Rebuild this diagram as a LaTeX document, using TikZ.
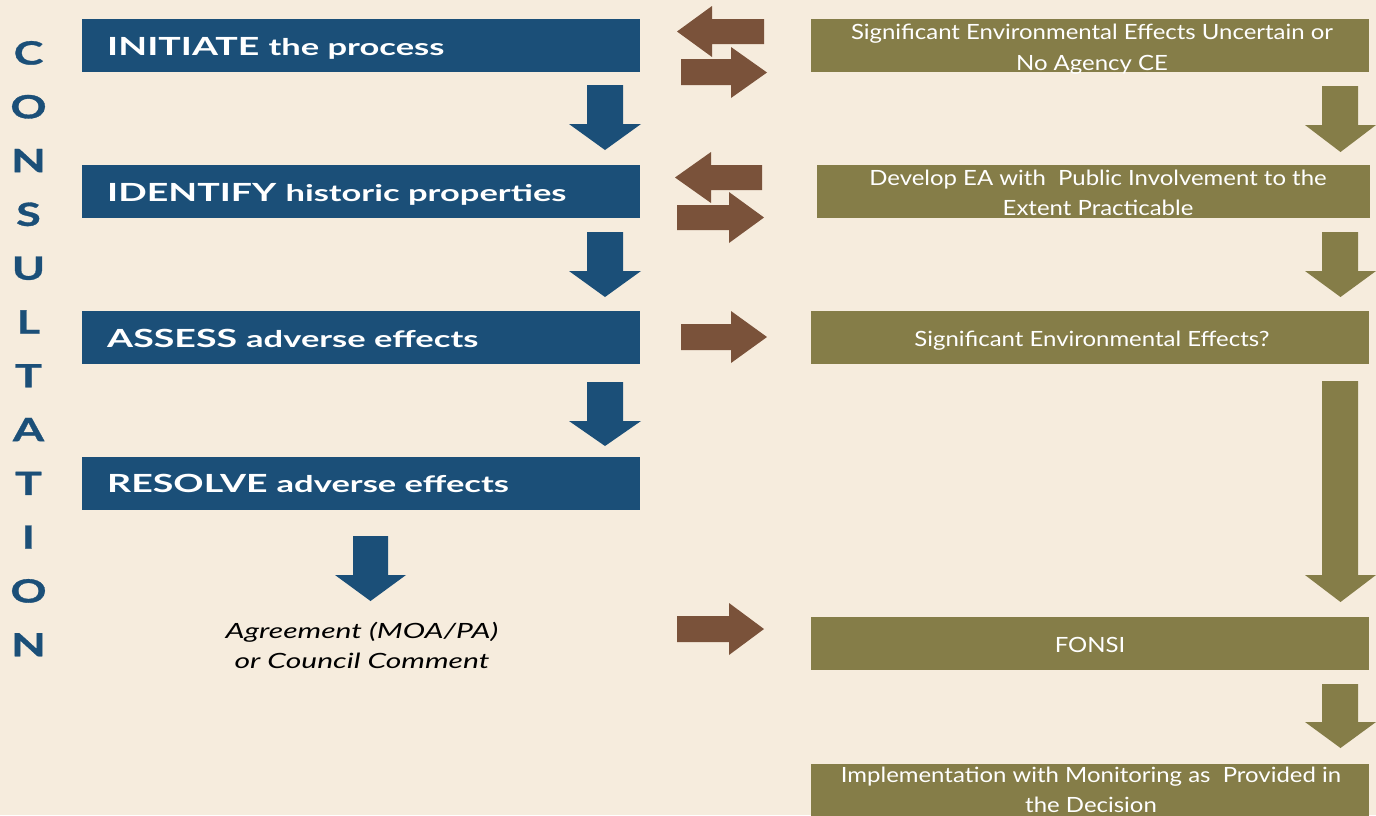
\documentclass[tikz,border=0pt]{standalone}
\usepackage{fontspec}
\setmainfont{Lato}
\newfontfamily\condfont[FakeStretch=1.14]{Lato}
\newfontfamily\bluefont[FakeStretch=1.5]{Lato}
\newfontfamily\itfont[FakeStretch=1.43]{Lato}
\newfontfamily\widefont[FakeStretch=1.4,FakeBold=1]{Lato}
\definecolor{bg}{HTML}{F6ECDD}
\definecolor{navy}{HTML}{1B4F78}
\definecolor{olive}{HTML}{857D48}
\definecolor{brownarr}{HTML}{7A523A}
% down arrow: color, shaft left, shaft right, head left, head right, top, head base, tip
\newcommand\myDown[8]{\fill[#1] (#2,#6) -- (#3,#6) -- (#3,#7) -- (#5,#7) -- ({(#4+#5)/2},#8) -- (#4,#7) -- (#2,#7) -- cycle;}
% horizontal arrow: color, shaft start x, head base x, tip x, shaft y1, shaft y2, head y1, head y2
\newcommand\myHoriz[8]{\fill[#1] (#2,#5) -- (#3,#5) -- (#3,#7) -- (#4,{(#7+#8)/2}) -- (#3,#8) -- (#3,#6) -- (#2,#6) -- cycle;}
\begin{document}
\begin{tikzpicture}[x=1pt,y=-1pt,
  bbox/.style={rectangle,fill=navy,inner sep=0pt,outer sep=0pt,minimum width=558pt,minimum height=53pt},
  obox/.style={rectangle,fill=olive,inner sep=0pt,outer sep=0pt,minimum width=558pt,minimum height=53pt},
  btext/.style={anchor=base west,text=white,inner sep=0pt,font=\bluefont\fontsize{25}{30}\selectfont\bfseries},
  otext/.style={anchor=base,text=white,inner sep=0pt,font=\condfont\fontsize{21}{25}\selectfont},
  itext/.style={anchor=base,text=black,inner sep=0pt,font=\itfont\fontsize{21}{25}\selectfont\itshape},
  letter/.style={anchor=base,text=navy,inner sep=0pt,font=\widefont\fontsize{32}{36}\selectfont\bfseries}]
\fill[bg] (0,0) rectangle (1376,815);
\useasboundingbox (0,0) rectangle (1376,815);

% CONSULTATION
\foreach \ch [count=\i from 0] in {C,O,N,S,U,L,T,A,T,I,O,N}{
  \node[letter] (L\i) at (28.5,{64.5+53.8*\i}) {\ch};
}

% blue boxes
\node[bbox] (init) at (361,45.5) {};
\node[bbox] (ident) at (361,191.5) {};
\node[bbox] (assess) at (361,337.5) {};
\node[bbox] (resolve) at (361,483) {};
\node[btext] (t1) at (107,55) {INITIATE \fontsize{23}{28}\selectfont the process};
\node[btext] (t2) at (107,201) {IDENTIFY \fontsize{23}{28}\selectfont historic properties};
\node[btext] (t3) at (107,347) {ASSESS \fontsize{23}{28}\selectfont adverse effects};
\node[btext] (t4) at (107,492) {RESOLVE \fontsize{23}{28}\selectfont adverse effects};
\node[itext] (ag1) at (362,638) {Agreement (MOA/PA)};
\node[itext] (ag2) at (362,668) {or Council Comment};

% olive boxes
\node[obox] (o1) at (1090,45.5) {};
\node[obox, minimum width=553pt] (o2) at (1093.5,191.5) {};
\node[obox] (o3) at (1090,337.5) {};
\node[obox] (o4) at (1090,643) {};
\node[obox] (o5) at (1090,790) {};
\node[otext] (ot1a) at (1092,39) {Significant Environmental Effects Uncertain or};
\node[otext] (ot1b) at (1092,70) {No Agency CE};
\node[otext] (ot2a) at (1098,185) {Develop EA with\ \ Public Involvement to the};
\node[otext] (ot2b) at (1098,215) {Extent Practicable};
\node[otext] (ot3) at (1092,346) {Significant Environmental Effects?};
\node[otext] (ot4) at (1090,652) {FONSI};
\node[otext] (ot5a) at (1091,782) {Implementation with Monitoring as\ \ Provided in};
\node[otext] (ot5b) at (1091,812) {the Decision};

% blue down arrows
\myDown{navy}{587}{623}{569}{641}{85}{124}{150}
\myDown{navy}{587}{623}{569}{641}{232}{271}{297}
\myDown{navy}{587}{623}{569}{641}{382}{421}{446}
\myDown{navy}{353}{388}{335}{406}{536}{575}{601}

% olive down arrows
\myDown{olive}{1322}{1358}{1305}{1376}{86}{125}{152}
\myDown{olive}{1322}{1358}{1305}{1376}{232}{271}{297}
\myDown{olive}{1322}{1358}{1305}{1376}{381}{575}{602}
\myDown{olive}{1322}{1358}{1305}{1376}{684}{722}{748}

% brown arrows
\myHoriz{brownarr}{764}{712}{677}{19}{44}{6}{57}
\myHoriz{brownarr}{681}{731}{767}{59}{85}{47}{98}
\myHoriz{brownarr}{762}{711}{675}{165}{190}{152}{203}
\myHoriz{brownarr}{677}{729}{764}{205}{230}{192}{243}
\myHoriz{brownarr}{681}{731}{767}{324}{350}{311}{363}
\myHoriz{brownarr}{677}{729}{764}{616}{642}{603}{655}
\end{tikzpicture}
\end{document}
